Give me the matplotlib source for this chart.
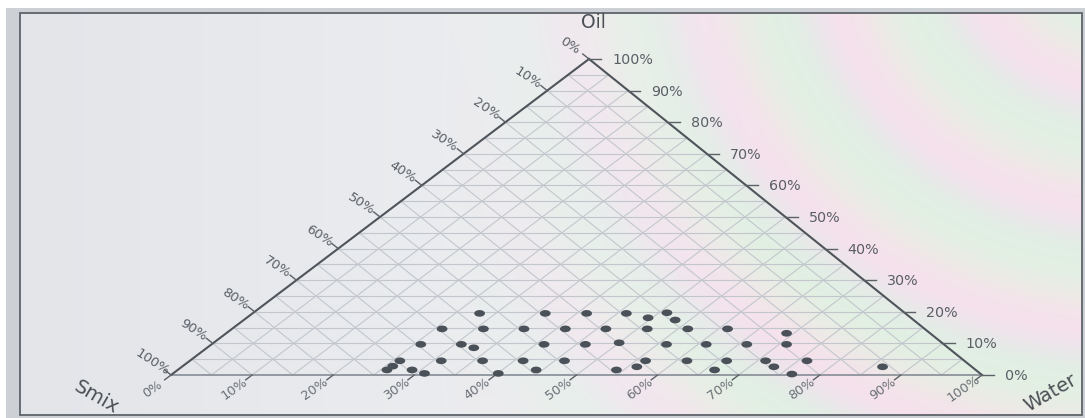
import numpy as np
import matplotlib
matplotlib.use("Agg")
import matplotlib.pyplot as plt
from matplotlib.path import Path
from matplotlib.patches import Rectangle

# ---- data: composition of each formulation (percent) ----
water = [28.0, 36.1, 41.2, 46.1, 51.0, 49.5, 53.2,
         25.9, 31.0, 36.0, 41.1, 46.1, 51.2, 56.2, 61.1, 69.1,
         25.8, 30.8, 32.9, 41.0, 46.1, 50.0, 56.1, 61.0, 66.0, 70.9,
         25.9, 31.0, 36.1, 41.1, 46.2, 56.2, 61.3, 66.2, 71.0, 76.1,
         25.8, 25.9, 28.9, 31.0, 40.1, 44.2, 54.1, 56.1, 66.2, 73.0, 76.4, 86.4]
oil = [19.5, 19.5, 19.5, 19.5, 19.7, 18.1, 17.4,
       14.6, 14.6, 14.6, 14.6, 14.6, 14.6, 14.6, 14.6, 13.2,
       9.7, 9.7, 8.6, 9.7, 9.7, 10.2, 9.7, 9.7, 9.7, 9.7,
       4.5, 4.5, 4.5, 4.5, 4.5, 4.5, 4.5, 4.5, 4.5, 4.5,
       1.6, 2.8, 1.6, 0.5, 0.5, 1.6, 1.6, 2.6, 1.6, 2.6, 0.3, 2.6]
tick_values = list(range(0, 101, 10))
tick_labels = [f"{v}%" for v in tick_values]
axis_titles = {"top": "Oil", "left": "Smix", "right": "Water"}

# ---- layout of the ternary frame (canvas units) ----
W_PX, H_PX = 1085, 418
V_SMIX = np.array([171.0, 375.0])
V_WATER = np.array([982.0, 375.0])
V_OIL = np.array([589.0, 59.0])


def tern(w, o):
    """Ternary (water, oil) fractions -> canvas position; smix is the rest."""
    w = np.asarray(w, float)
    o = np.asarray(o, float)
    s = 1.0 - w - o
    x = s * V_SMIX[0] + w * V_WATER[0] + o * V_OIL[0]
    y = s * V_SMIX[1] + w * V_WATER[1] + o * V_OIL[1]
    return x, y


plt.rcParams["font.family"] = ["DejaVu Sans"]
fig = plt.figure(figsize=(W_PX / 100, H_PX / 100), dpi=100, facecolor="white")
ax = fig.add_axes([0, 0, 1, 1])
ax.set_xlim(0, W_PX)
ax.set_ylim(H_PX, 0)
ax.axis("off")

# ---- window frame and background ----
ax.add_patch(Rectangle((6, 8), W_PX - 6, H_PX - 8, facecolor="#cdd0d5",
                       edgecolor="none", zorder=0))
nx, ny = 540, 200
gx = np.linspace(0, 1, nx)[None, :]
gy = np.linspace(0, 1, ny)[:, None]
left_c = np.array([0.890, 0.898, 0.915])
mid_c = np.array([0.930, 0.936, 0.944])
t = np.clip(gx / 0.55, 0, 1)
base = left_c[None, None, :] * (1 - t[..., None]) + mid_c[None, None, :] * t[..., None]
base = np.broadcast_to(base, (ny, nx, 3)).copy()
pink = np.array([0.965, 0.875, 0.930])
green = np.array([0.860, 0.940, 0.895])
yellow = np.array([0.950, 0.945, 0.860])
r = np.sqrt(((gx - 1.05) * 1.9) ** 2 + ((gy + 0.2) * 0.8) ** 2)
band = 0.5 + 0.5 * np.sin(r * 26.0)
band2 = 0.5 + 0.5 * np.sin(r * 26.0 + 2.1)
amp = np.clip((gx - 0.40) / 0.30, 0, 1) * 0.9
tint = (pink[None, None, :] * band[..., None]
        + green[None, None, :] * (1 - band[..., None]))
tint = tint * (1 - 0.3 * band2[..., None]) + yellow[None, None, :] * 0.3 * band2[..., None]
img = base * (1 - amp[..., None]) + tint * amp[..., None]
ax.imshow(img, extent=(20, 1082, 415, 13), aspect="auto", zorder=0.5,
          interpolation="bilinear")
ax.add_patch(Rectangle((20, 13), 1062, 402, facecolor="none",
                       edgecolor="#5f636a", lw=1.3, zorder=1))

# ---- grid every 5 % ----
grid_kw = dict(color="#c3c7cd", lw=0.8, zorder=2)
for k in np.arange(0.05, 1.0, 0.05):
    x, y = tern([0, 1 - k], [k, k])          # constant oil
    ax.plot(x, y, **grid_kw)
    x, y = tern([k, k], [0, 1 - k])          # constant water
    ax.plot(x, y, **grid_kw)
    x, y = tern([0, 1 - k], [1 - k, 0])      # constant smix
    ax.plot(x, y, **grid_kw)

# ---- triangle edges ----
ax.plot(*tern([0, 1], [0, 0]), color="#868c95", lw=1.2, zorder=3)
ax.plot(*tern([0, 0], [0, 1]), color="#4f545b", lw=1.5, zorder=3)
ax.plot(*tern([1, 0], [0, 1]), color="#4f545b", lw=1.5, zorder=3)

# ---- ticks and tick labels ----
tick_c = "#5c6168"
lab_c = "#5a5f66"
d_bottom = (V_SMIX - V_OIL) / np.linalg.norm(V_SMIX - V_OIL) * 8
d_left = (V_OIL - V_WATER) / np.linalg.norm(V_OIL - V_WATER) * 8
for v, lab in zip(tick_values, tick_labels):
    f = v / 100
    # water along the base
    x, y = tern(f, 0)
    ax.plot([x, x + d_bottom[0]], [y, y + d_bottom[1]], color=tick_c, lw=1, zorder=3)
    ax.text(x - 18, y + 14, lab, rotation=35, ha="center", va="center",
            fontsize=9.3, color="#6a6f76", zorder=4)
    # oil along the right edge
    x, y = tern(1 - f, f)
    ax.plot([x, x + 12], [y, y], color=tick_c, lw=1, zorder=3)
    ax.text(x + 23, y + 1, lab, ha="left", va="center",
            fontsize=10.3, color=lab_c, zorder=4)
    # smix along the left edge
    x, y = tern(0, 1 - f)
    ax.plot([x, x + d_left[0]], [y, y + d_left[1]], color=tick_c, lw=1, zorder=3)
    ax.text(x - 19, y - 13, lab, rotation=-33, ha="center", va="center",
            fontsize=9.5, color=lab_c, zorder=4)

# ---- axis titles ----
title_c = "#4c5057"
ax.text(593, 22, axis_titles["top"], ha="center", va="center",
        fontsize=13.5, color=title_c)
ax.text(96, 397, axis_titles["left"], rotation=-30, ha="center", va="center",
        fontsize=14, color=title_c)
ax.text(1051, 393, axis_titles["right"], rotation=30, ha="center", va="center",
        fontsize=14, color=title_c)

# ---- data points (slightly flattened dots) ----
circ = Path.unit_circle()
ellipse = Path(circ.vertices * np.array([1.0, 0.62]), circ.codes)
px, py = tern(np.array(water) / 100, np.array(oil) / 100)
ax.scatter(px, py, marker=ellipse, s=60, color="#4a5159", edgecolors="none",
           zorder=5)

fig.savefig("out.png", dpi=100, facecolor=fig.get_facecolor())
